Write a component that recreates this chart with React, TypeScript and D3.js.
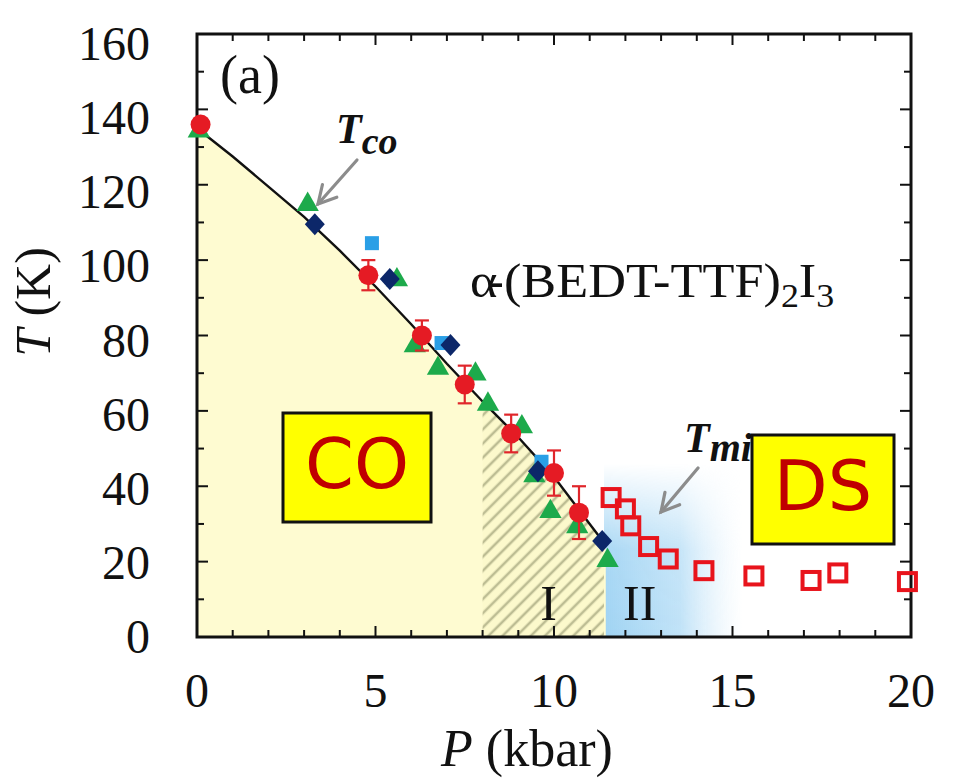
import React from "react";
import * as d3 from "d3";

// Charge-order transition line (fit through T_CO data)
const tcoLineP = [0, 1, 2, 3, 4, 5, 6, 7, 8, 9, 10, 11, 11.4];
const tcoLineT = [135, 127.5, 119.5, 111.5, 102.5, 93, 83, 72.5, 62.5, 53, 42.5, 30, 25];

// T_CO from resistivity (red circles with error bars)
const redP = [0.1, 4.8, 6.3, 7.5, 8.8, 10.0, 10.7];
const redT = [136, 96, 80, 67, 54, 43.5, 33];
const redErr = [0, 4, 4, 5, 5, 6, 7];

// T_CO (green triangles)
const greenP = [0.05, 3.1, 5.6, 6.1, 6.75, 7.8, 8.15, 9.1, 9.45, 9.9, 10.65, 11.5];
const greenT = [134, 114.5, 94.5, 77, 71, 69.5, 61.5, 55.5, 42.5, 33, 29, 20];

// T_CO (navy diamonds)
const navyP = [3.3, 5.4, 7.1, 9.55, 11.35];
const navyT = [109.5, 95, 77.5, 44, 25.5];

// T_CO (light-blue squares)
const cyanP = [4.9, 6.85, 9.65];
const cyanT = [104.5, 78, 46.5];

// T_min (open red squares)
const tmiP = [11.6, 12.0, 12.15, 12.65, 13.2, 14.2, 15.6, 17.2, 17.95, 19.9];
const tmiT = [37, 34, 29.5, 24, 20.7, 17.6, 16.2, 15, 17, 14.7];

// Axis ticks
const xMajor = [0, 5, 10, 15, 20];
const yMajor = [0, 20, 40, 60, 80, 100, 120, 140, 160];

// Region boundaries (kbar)
const hatchStartP = 8;
const regionEndP = 11.4;
const blueEndP = 15.3;
const blueTopT = 46;

const W = 954;
const H = 781;
const L = 197, R = 911, T0 = 34, B = 637;

const SERIF = "'Liberation Serif', 'Times New Roman', serif";
const SANS = "'DejaVu Sans', Verdana, sans-serif";

export default function App() {
  const x = d3.scaleLinear().domain([0, 20]).range([L, R]);
  const y = d3.scaleLinear().domain([0, 160]).range([B, T0]);

  const linePts: [number, number][] = tcoLineP.map((p, i) => [p, tcoLineT[i]]);
  const line = d3.line<[number, number]>().x(d => x(d[0])).y(d => y(d[1]));

  const interpT = d3.scaleLinear().domain(tcoLineP).range(tcoLineT);

  // area under the CO line
  const coArea = d3
    .area<[number, number]>()
    .x(d => x(d[0]))
    .y0(y(0))
    .y1(d => y(d[1]));

  const hatchPts: [number, number][] = [
    [hatchStartP, interpT(hatchStartP)],
    ...linePts.filter(d => d[0] > hatchStartP),
  ];

  const xMinor = d3.range(0, 21, 1);
  const yMinor = d3.range(0, 161, 10);

  const triangle = d3.symbol(d3.symbolTriangle, 215)();
  const diamond = "M0,-11L10,0L0,11L-10,0Z";

  const arrow = (x1: number, y1: number, x2: number, y2: number) => {
    const a = Math.atan2(y2 - y1, x2 - x1);
    const hl = 20, ha = 0.5;
    const p1 = [x2 - hl * Math.cos(a - ha), y2 - hl * Math.sin(a - ha)];
    const p2 = [x2 - hl * Math.cos(a + ha), y2 - hl * Math.sin(a + ha)];
    return (
      <g stroke="#8c8c8c" strokeWidth={3.2} fill="none" strokeLinecap="round">
        <line x1={x1} y1={y1} x2={x2} y2={y2} />
        <polyline points={`${p1[0]},${p1[1]} ${x2},${y2} ${p2[0]},${p2[1]}`} />
      </g>
    );
  };

  return (
    <svg
      width={W}
      height={H}
      viewBox={`0 0 ${W} ${H}`}
      style={{ position: "absolute", left: 0, top: 0, background: "#fff" }}
    >
      <defs>
        <pattern id="hatch" patternUnits="userSpaceOnUse" width="10" height="10" patternTransform="rotate(-45)">
          <rect width="10" height="10" fill="#fcf9cc" />
          <line x1="0" y1="5" x2="10" y2="5" stroke="#bdbd93" strokeWidth="2.6" />
        </pattern>
        <linearGradient id="blueH" x1="0" x2="1" y1="0" y2="0">
          <stop offset="0" stopColor="#9fd3f3" stopOpacity="1" />
          <stop offset="0.55" stopColor="#b5ddf6" stopOpacity="0.85" />
          <stop offset="1" stopColor="#dff0fb" stopOpacity="0" />
        </linearGradient>
        <linearGradient id="fadeV" x1="0" x2="0" y1="1" y2="0">
          <stop offset="0" stopColor="#fff" stopOpacity="1" />
          <stop offset="0.5" stopColor="#fff" stopOpacity="0.9" />
          <stop offset="1" stopColor="#fff" stopOpacity="0" />
        </linearGradient>
        <mask id="blueMask">
          <rect
            x={x(regionEndP)}
            y={y(blueTopT)}
            width={x(blueEndP) - x(regionEndP)}
            height={y(0) - y(blueTopT)}
            fill="url(#fadeV)"
          />
        </mask>
        <clipPath id="plotClip">
          <rect x={L} y={T0} width={R - L} height={B - T0} />
        </clipPath>
      </defs>

      <g clipPath="url(#plotClip)">
        {/* region II (blue) */}
        <rect
          x={x(regionEndP)}
          y={y(blueTopT)}
          width={x(blueEndP) - x(regionEndP)}
          height={y(0) - y(blueTopT)}
          fill="url(#blueH)"
          mask="url(#blueMask)"
        />
        {/* CO region (yellow) */}
        <path
          d={(coArea([...linePts, [regionEndP + 0.05, 25]]) as string)}
          fill="#fefbd1"
        />
        {/* region I (hatched) */}
        <path d={coArea(hatchPts) as string} fill="url(#hatch)" />
      </g>

      {/* ticks on all four sides, pointing inward */}
      <g stroke="#111" strokeWidth={2}>
        {xMinor.map(v => {
          const len = v % 5 === 0 ? 11 : 7;
          return (
            <g key={"xt" + v}>
              <line x1={x(v)} x2={x(v)} y1={B} y2={B - len} />
              <line x1={x(v)} x2={x(v)} y1={T0} y2={T0 + len} />
            </g>
          );
        })}
        {yMinor.map(v => {
          const len = v % 20 === 0 ? 11 : 7;
          return (
            <g key={"yt" + v}>
              <line x1={L} x2={L + len} y1={y(v)} y2={y(v)} />
              <line x1={R} x2={R - len} y1={y(v)} y2={y(v)} />
            </g>
          );
        })}
      </g>

      {/* frame */}
      <rect x={L} y={T0} width={R - L} height={B - T0} fill="none" stroke="#111" strokeWidth={3} />

      {/* T_CO line */}
      <path d={line(linePts) as string} fill="none" stroke="#111" strokeWidth={2.4} />

      {/* green triangles */}
      {greenP.map((p, i) => (
        <path key={"g" + i} d={triangle as string} transform={`translate(${x(p)},${y(greenT[i]) - 1})`} fill="#1daa4b" />
      ))}

      {/* light blue squares */}
      {cyanP.map((p, i) => (
        <rect key={"c" + i} x={x(p) - 7} y={y(cyanT[i]) - 7} width={14} height={14} fill="#2a9fe6" />
      ))}

      {/* navy diamonds */}
      {navyP.map((p, i) => (
        <path key={"n" + i} d={diamond} transform={`translate(${x(p)},${y(navyT[i])})`} fill="#0c2769" />
      ))}

      {/* red circles with error bars */}
      {redP.map((p, i) => {
        const cx = x(p);
        const e = redErr[i];
        return (
          <g key={"r" + i}>
            {e > 0 && (
              <g stroke="#e0262b" strokeWidth={2.2}>
                <line x1={cx} x2={cx} y1={y(redT[i] + e)} y2={y(redT[i] - e)} />
                <line x1={cx - 7} x2={cx + 7} y1={y(redT[i] + e)} y2={y(redT[i] + e)} />
                <line x1={cx - 7} x2={cx + 7} y1={y(redT[i] - e)} y2={y(redT[i] - e)} />
              </g>
            )}
            <circle cx={cx} cy={y(redT[i])} r={10} fill="#e51b24" />
          </g>
        );
      })}

      {/* T_min open squares */}
      {tmiP.map((p, i) => (
        <rect
          key={"m" + i}
          x={x(p) - 8.5}
          y={y(tmiT[i]) - 8.5}
          width={17}
          height={17}
          fill="none"
          stroke="#e8141c"
          strokeWidth={4}
        />
      ))}

      {/* annotations */}
      <text x={220} y={93} fontFamily={SERIF} fontSize={54} fill="#111">(a)</text>

      <text fontFamily={SERIF} fontWeight="bold" fontStyle="italic" fill="#111">
        <tspan x={336} y={143} fontSize={42}>T</tspan>
        <tspan y={154} fontSize={38}>co</tspan>
      </text>
      {arrow(357, 160, 318, 204)}

      <g transform="translate(470,297) scale(1.09,1)">
        <text x={0} y={0} fontFamily={SERIF} fontSize={48} fill="#111">
          <tspan dx="0 -10">α-(BEDT-TTF)</tspan>
          <tspan dy={10} fontSize={33}>2</tspan>
          <tspan dy={-10}>I</tspan>
          <tspan dy={10} fontSize={33}>3</tspan>
        </text>
      </g>

      <text fontFamily={SERIF} fontWeight="bold" fontStyle="italic" fill="#111">
        <tspan x={684} y={452} fontSize={42}>T</tspan>
        <tspan y={461} fontSize={40}>mi</tspan>
      </text>
      {arrow(698, 468, 661, 512)}

      <text x={x(9.85)} y={620} fontFamily={SERIF} fontSize={50} fill="#111" textAnchor="middle">I</text>
      <text x={x(12.4)} y={620} fontFamily={SERIF} fontSize={50} fill="#111" textAnchor="middle">II</text>

      {/* phase labels */}
      <g>
        <rect x={283} y={413} width={148} height={109} fill="#ffff00" stroke="#111" strokeWidth={3} />
        <text x={357} y={488} fontFamily={SANS} fontSize={70} fill="#c00000" textAnchor="middle">CO</text>
      </g>
      <g>
        <rect x={752} y={435} width={142} height={109} fill="#ffff00" stroke="#111" strokeWidth={3} />
        <text x={823} y={510} fontFamily={SANS} fontSize={70} fill="#c00000" textAnchor="middle">DS</text>
      </g>

      {/* tick labels */}
      {xMajor.map(v => (
        <text key={"xl" + v} x={x(v)} y={707} fontFamily={SERIF} fontSize={48} fill="#111" textAnchor="middle">
          {v}
        </text>
      ))}
      {yMajor.map(v => (
        <text
          key={"yl" + v}
          x={150}
          y={y(v) + 16 + (v / 160) * 10}
          fontFamily={SERIF}
          fontSize={48}
          fill="#111"
          textAnchor="end"
        >
          {v}
        </text>
      ))}

      {/* axis titles */}
      <text x={527} y={766} fontFamily={SERIF} fontSize={52} fill="#111" textAnchor="middle">
        <tspan fontStyle="italic">P</tspan> (kbar)
      </text>
      <text
        transform={`translate(50,302) rotate(-90)`}
        fontFamily={SERIF}
        fontSize={50}
        fill="#111"
        textAnchor="middle"
      >
        <tspan fontStyle="italic">T</tspan> (K)
      </text>
    </svg>
  );
}
